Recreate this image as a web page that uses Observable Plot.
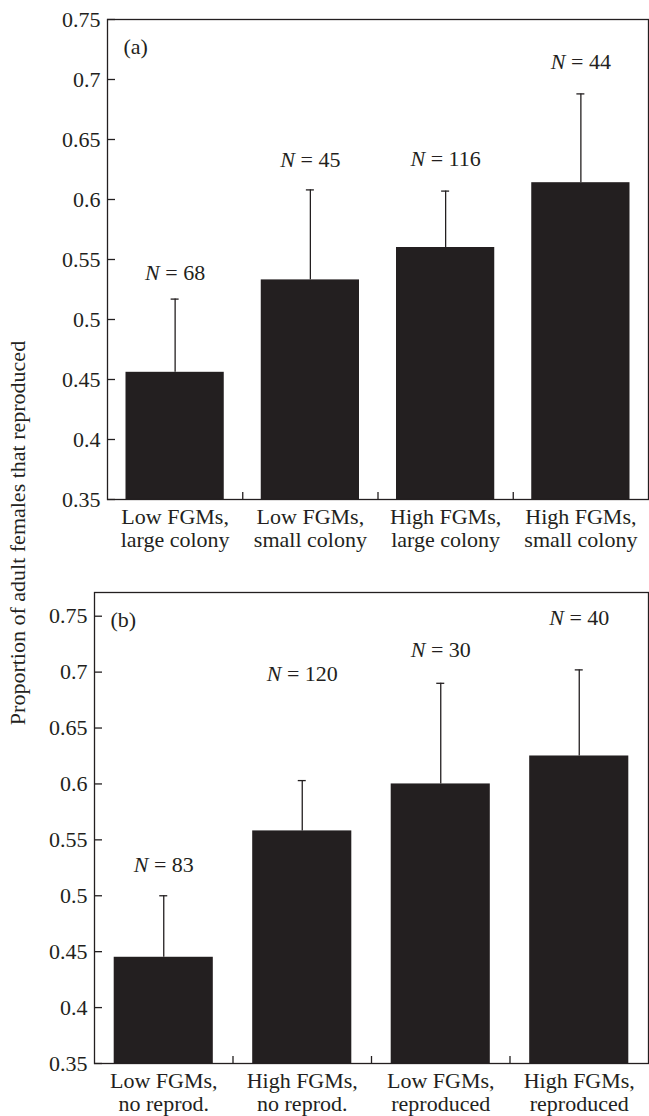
<!DOCTYPE html>
<html><head><meta charset="utf-8">
<script src="https://cdn.jsdelivr.net/npm/d3@7"></script>
<script src="https://cdn.jsdelivr.net/npm/@observablehq/plot@0.6"></script>
<style>
html,body{margin:0;padding:0;background:#fff;}
#wrap{position:relative;width:649px;height:1116px;overflow:hidden;}
#wrap svg{display:block;}
#pa{position:absolute;left:0;top:0;}
#pb{position:absolute;left:0;top:560px;}
#yt{position:absolute;left:0;top:0;}
</style></head><body>
<div id="wrap">
<div id="pa"></div>
<div id="pb"></div>
<svg id="yt" width="44" height="1116"><text transform="translate(25,533) rotate(-90)" text-anchor="middle" font-size="22" fill="#231f20" font-family="Liberation Serif, serif">Proportion of adult females that reproduced</text></svg>
</div>
<script>
// Panel (a)
const catsA = ["Low FGMs,\nlarge colony", "Low FGMs,\nsmall colony", "High FGMs,\nlarge colony", "High FGMs,\nsmall colony"];
const propA = [0.456, 0.533, 0.560, 0.614];
const errTopA = [0.517, 0.608, 0.607, 0.688];
const nA = [68, 45, 116, 44];
const nLabelYA = [0.533, 0.627, 0.628, 0.709];
// Panel (b)
const catsB = ["Low FGMs,\nno reprod.", "High FGMs,\nno reprod.", "Low FGMs,\nreproduced", "High FGMs,\nreproduced"];
const propB = [0.445, 0.558, 0.600, 0.625];
const errTopB = [0.500, 0.603, 0.690, 0.702];
const nB = [83, 120, 30, 40];
const nLabelYB = [0.521, 0.692, 0.7135, 0.742];
// Axes
const yTicks = [0.35, 0.4, 0.45, 0.5, 0.55, 0.6, 0.65, 0.7, 0.75];
const yTickLabels = ["0.35", "0.4", "0.45", "0.5", "0.55", "0.6", "0.65", "0.7", "0.75"];
const panelLabels = ["(a)", "(b)"];

const INK = "#231f20";

function panel(cats, prop, errTop, ns, labY, label, opts) {
  const idx = cats.map((d, i) => i);
  const bounds = idx.slice(0, -1).map(i => i + 0.5);
  const y0 = opts.yDomain[0];
  return Plot.plot({
    width: 649,
    height: opts.height,
    marginLeft: opts.marginLeft,
    marginRight: 1,
    marginTop: opts.marginTop,
    marginBottom: opts.marginBottom,
    style: {fontFamily: "Liberation Serif, serif", fontSize: "22px", color: INK, background: "transparent"},
    x: {type: "linear", domain: [-0.5, cats.length - 0.5]},
    y: {domain: opts.yDomain},
    marks: [
      Plot.rectY(idx, {x1: i => i - 0.5, x2: i => i + 0.5, y1: y0, y2: i => prop[i], fill: INK, insetLeft: opts.inset, insetRight: opts.inset}),
      Plot.ruleX(idx, {x: i => i, y1: i => prop[i], y2: i => errTop[i], stroke: INK, strokeWidth: 1.3}),
      Plot.ruleY(idx, {x1: i => i, x2: i => i, y: i => errTop[i], insetLeft: -4, insetRight: -4, stroke: INK, strokeWidth: 1.3}),
      Plot.text(idx, {x: i => i, y: i => labY[i], text: i => "N = " + ns[i], lineAnchor: "bottom", fill: INK}),
      Plot.text([label], {frameAnchor: "top-left", dx: 16, dy: 34, textAnchor: "start", lineAnchor: "bottom", fill: INK}),
      Plot.axisY({ticks: yTicks, tickSize: -8, tickFormat: () => "", stroke: INK, strokeWidth: 1.3}),
      Plot.axisY({ticks: yTicks, tickSize: 0, tickPadding: 7, tickFormat: d => yTickLabels[yTicks.indexOf(d)], fill: INK}),
      Plot.axisX({ticks: bounds, tickSize: -7, tickFormat: () => "", stroke: INK, strokeWidth: 1.3}),
      Plot.axisX({ticks: idx, tickSize: 0, tickPadding: 8, tickFormat: i => cats[i], lineHeight: 1.06, fill: INK}),
      Plot.frame({stroke: INK, strokeWidth: 1.3})
    ]
  });
}

function italicN(svg) {
  svg.querySelectorAll("text").forEach(t => {
    const m = /^N = (\d+)$/.exec(t.textContent);
    if (m && t.children.length === 0) {
      t.textContent = "";
      const ts = document.createElementNS("http://www.w3.org/2000/svg", "tspan");
      ts.setAttribute("font-style", "italic");
      ts.textContent = "N";
      t.appendChild(ts);
      t.appendChild(document.createTextNode(" = " + m[1]));
    }
  });
  return svg;
}

const a = panel(catsA, propA, errTopA, nA, nLabelYA, panelLabels[0],
  {height: 560, marginLeft: 107, marginTop: 19, marginBottom: 61, yDomain: [0.35, 0.75], inset: 18.5});
const b = panel(catsB, propB, errTopB, nB, nLabelYB, panelLabels[1],
  {height: 556, marginLeft: 94, marginTop: 32, marginBottom: 53, yDomain: [0.35, 0.7712], inset: 19.7});
document.getElementById("pa").appendChild(italicN(a));
document.getElementById("pb").appendChild(italicN(b));
</script>
</body></html>
